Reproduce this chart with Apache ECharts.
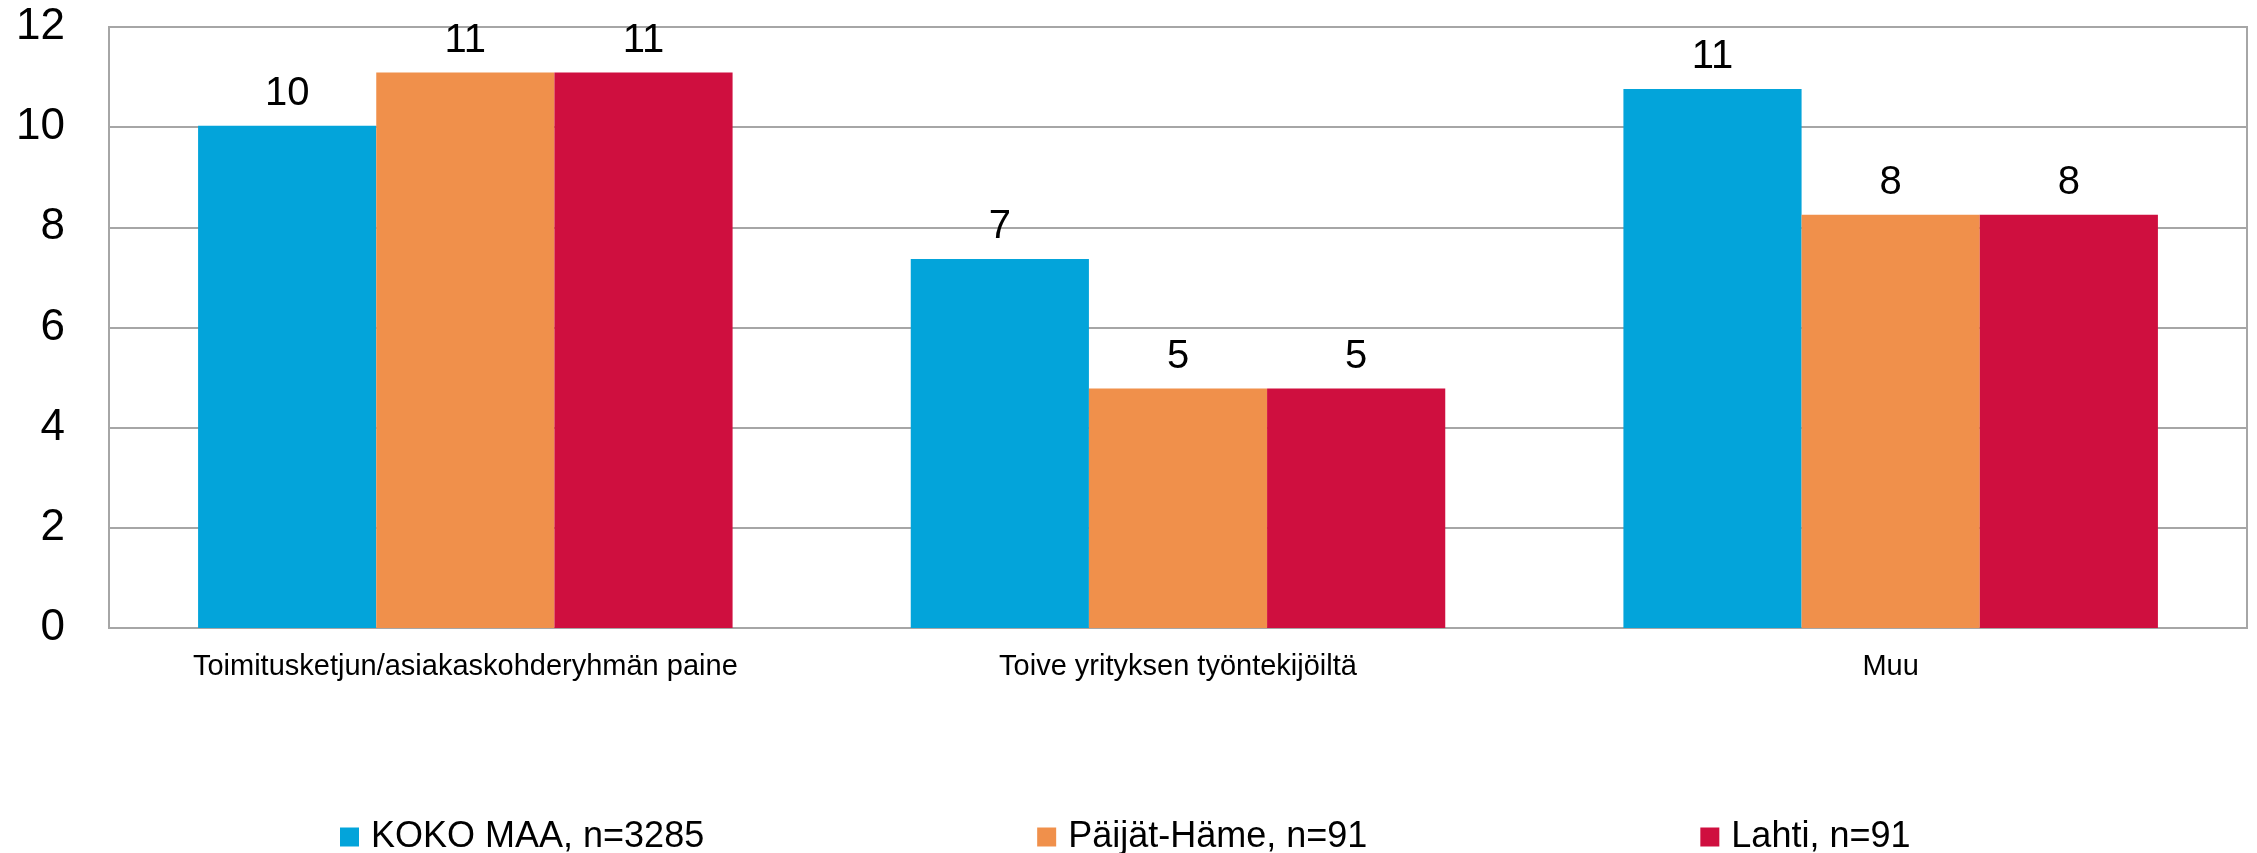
<!DOCTYPE html>
<html>
<head>
<meta charset="utf-8">
<script src="https://cdn.jsdelivr.net/npm/echarts@6/dist/echarts.min.js"></script>
<style>
  html, body { margin: 0; padding: 0; background: #fff; }
  #chart { width: 2257px; height: 853px; }
</style>
</head>
<body>
<div id="chart"></div>
<script>
const categories = ["Toimitusketjun/asiakaskohderyhmän paine", "Toive yrityksen työntekijöiltä", "Muu"];
const seriesNames = ["KOKO MAA, n=3285", "Päijät-Häme, n=91", "Lahti, n=91"];
const kokoMaa = [10.03, 7.37, 10.76];
const paijatHame = [11.09, 4.78, 8.25];
const lahti = [11.09, 4.78, 8.25];
const colors = ["#03A4DA", "#F0904B", "#CF0F3F"];
const yTicks = { min: 0, max: 12, interval: 2 };

const chart = echarts.init(document.getElementById("chart"));
const font = "'Liberation Sans', Arial, sans-serif";

const makeSeries = (name, data, color) => {
  return {
    name: name,
    type: "bar",
    data: data,
    barGap: "0%",
    barCategoryGap: "25%",
    itemStyle: { color: color },
    label: {
      show: true,
      position: "top",
      distance: 12,
      fontSize: 40,
      fontFamily: font,
      color: "#000",
      formatter: (p) => Math.round(p.value),
    },
  };
};

const option = {
  animation: false,
  backgroundColor: "#fff",
  textStyle: { fontFamily: font },
  grid: {
    left: 109,
    right: 10,
    top: 27,
    bottom: 225,
    show: true,
    borderColor: "#A6A6A6",
    borderWidth: 2,
  },
  legend: {
    left: 335,
    top: 814,
    itemWidth: 19,
    itemHeight: 19,
    itemGap: 333,
    icon: "rect",
    textStyle: { fontSize: 36, fontFamily: font, color: "#000", padding: [0, 0, 0, 7] },
    data: seriesNames,
  },
  xAxis: {
    type: "category",
    data: categories,
    axisLine: { lineStyle: { color: "#A6A6A6", width: 2 } },
    axisTick: { show: false },
    axisLabel: { fontSize: 29, color: "#000", margin: 24, fontFamily: font },
  },
  yAxis: {
    type: "value",
    min: yTicks.min,
    max: yTicks.max,
    interval: yTicks.interval,
    axisLine: { show: true, lineStyle: { color: "#A6A6A6", width: 2 } },
    axisTick: { show: false },
    splitLine: { lineStyle: { color: "#A6A6A6", width: 2 } },
    axisLabel: { fontSize: 44, color: "#000", margin: 44, fontFamily: font },
  },
  series: [
    makeSeries(seriesNames[0], kokoMaa, colors[0]),
    makeSeries(seriesNames[1], paijatHame, colors[1]),
    makeSeries(seriesNames[2], lahti, colors[2]),
  ],
};

chart.setOption(option);
</script>
</body>
</html>
